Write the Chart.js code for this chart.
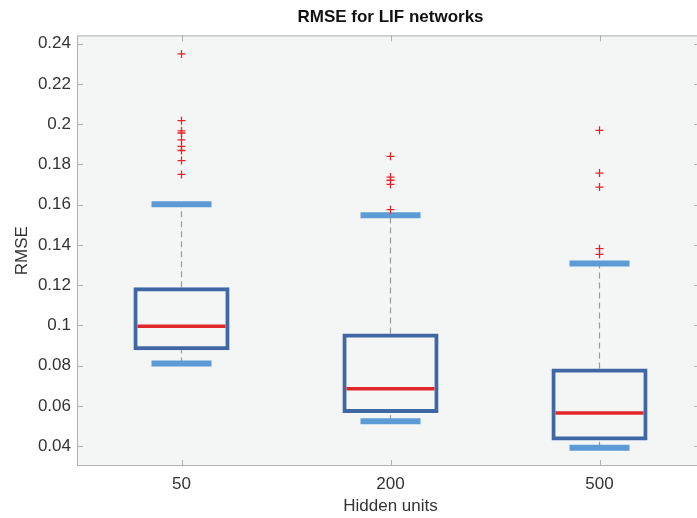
<!DOCTYPE html>
<html>
<head>
<meta charset="utf-8">
<script src="https://cdn.jsdelivr.net/npm/chart.js@4.4.1/dist/chart.umd.min.js"></script>
<style>
  html, body { margin: 0; padding: 0; background: #fff; overflow: hidden; }
  #wrap { width: 697px; height: 518px; overflow: hidden; }
</style>
</head>
<body>
<div id="wrap"><canvas id="c" width="720" height="518"></canvas></div>
<script>
// box plot summary
const categories   = ['50', '200', '500'];
const q1           = [0.0876, 0.0564, 0.0428];
const median       = [0.0995, 0.0685, 0.0564];
const q3           = [0.1189, 0.0959, 0.0785];
const whiskerLow   = [0.0811, 0.0524, 0.0392];
const whiskerHigh  = [0.1602, 0.1547, 0.1308];
const outliers50   = [0.2349, 0.2017, 0.1967, 0.1956, 0.1922, 0.1889, 0.1869, 0.1819, 0.1750];
const outliers200  = [0.1840, 0.1737, 0.1721, 0.1701, 0.1575];
const outliers500  = [0.1969, 0.1757, 0.1687, 0.1381, 0.1353];
const yTicks       = [0.04, 0.06, 0.08, 0.1, 0.12, 0.14, 0.16, 0.18, 0.2, 0.22, 0.24];

const C = {
  box:    '#3f67a3',
  cap:    '#5d9bd6',
  median: '#e3262b',
  whisk:  '#9a9a9a',
  plotBg: '#f4f6f6',
  frame:  '#b0b0b0',
  text:   '#333333',
};
const FONT = "'Liberation Sans', Arial, Helvetica, sans-serif";

const xs = categories.map((_, i) => i + 1);
const outlierPts = [outliers50, outliers200, outliers500]
  .flatMap((arr, i) => arr.map(v => ({ x: i + 1, y: v })));

// dashed whiskers, with null points to break between segments
const whiskerPts = xs.flatMap((x, i) => [
  { x, y: whiskerLow[i] }, { x, y: q1[i] }, { x, y: null },
  { x, y: q3[i] }, { x, y: whiskerHigh[i] }, { x, y: null },
]);

// plot background, frame and inward ticks (MATLAB style)
const frame = {
  id: 'frame',
  beforeDatasetsDraw(chart) {
    const { ctx, chartArea: a } = chart;
    ctx.save();
    ctx.fillStyle = C.plotBg;
    ctx.fillRect(a.left, a.top, a.right - a.left, a.bottom - a.top);
    ctx.strokeStyle = C.frame;
    ctx.lineWidth = 1;
    ctx.strokeRect(a.left + 0.5, a.top + 0.5, a.right - a.left - 1, a.bottom - a.top - 1);
    const sx = chart.scales.x, sy = chart.scales.y;
    ctx.beginPath();
    sx.ticks.forEach(t => {
      const px = Math.round(sx.getPixelForValue(t.value)) + 0.5;
      ctx.moveTo(px, a.bottom); ctx.lineTo(px, a.bottom - 6);
      ctx.moveTo(px, a.top);    ctx.lineTo(px, a.top + 6);
    });
    sy.ticks.forEach(t => {
      const py = Math.round(sy.getPixelForValue(t.value)) + 0.5;
      ctx.moveTo(a.left, py);  ctx.lineTo(a.left + 6, py);
      ctx.moveTo(a.right, py); ctx.lineTo(a.right - 10, py);
    });
    ctx.stroke();
    ctx.restore();
  },
};

new Chart(document.getElementById('c'), {
  data: {
    datasets: [
      {
        type: 'line', label: 'whiskers', data: whiskerPts,
        borderColor: C.whisk, borderWidth: 1.2, borderDash: [6, 4],
        pointRadius: 0, spanGaps: false, order: 5,
      },
      {
        type: 'bar', label: 'box',
        data: xs.map((x, i) => ({ x, y: [q1[i], q3[i]] })),
        backgroundColor: 'rgba(0,0,0,0)', borderColor: C.box, borderWidth: 4,
        borderSkipped: false, barPercentage: 0.46, categoryPercentage: 1, order: 4,
      },
      {
        type: 'scatter', label: 'caps',
        data: xs.flatMap((x, i) => [{ x, y: whiskerLow[i] }, { x, y: whiskerHigh[i] }]),
        pointStyle: 'line', pointRadius: 30, borderColor: C.cap, borderWidth: 6, order: 3,
      },
      {
        type: 'scatter', label: 'median',
        data: xs.map((x, i) => ({ x, y: median[i] })),
        pointStyle: 'line', pointRadius: 44, borderColor: C.median, borderWidth: 3.5, order: 2,
      },
      {
        type: 'scatter', label: 'outliers', data: outlierPts,
        pointStyle: 'cross', pointRadius: 4, borderColor: C.median, borderWidth: 1.3, order: 1,
      },
    ],
  },
  options: {
    responsive: false,
    animation: false,
    events: [],
    layout: { autoPadding: false, padding: { left: 0, right: 16, top: 0, bottom: 0 } },
    plugins: {
      legend: { display: false },
      tooltip: { enabled: false },
      title: {
        display: true, text: 'RMSE for LIF networks', fullSize: false,
        color: '#111', font: { family: FONT, size: 17, weight: 'bold' },
        padding: { top: 7, bottom: 8 },
      },
    },
    scales: {
      x: {
        type: 'linear', min: 0.5, max: 3.5, offset: false,
        grid: { display: false, drawTicks: false }, border: { display: false },
        afterBuildTicks: s => { s.ticks = xs.map(v => ({ value: v })); },
        afterFit: s => { s.height = 52; },
        ticks: {
          color: C.text, padding: 8, maxRotation: 0,
          font: { family: FONT, size: 17 },
          callback: v => categories[v - 1],
        },
        title: {
          display: true, text: 'Hidden units', color: C.text,
          font: { family: FONT, size: 17 }, padding: { top: 0, bottom: 1 },
        },
      },
      y: {
        type: 'linear', min: 0.0301, max: 0.2441,
        grid: { display: false, drawTicks: false }, border: { display: false },
        afterBuildTicks: s => { s.ticks = yTicks.map(v => ({ value: v })); },
        afterFit: s => { s.width = 77; },
        ticks: {
          color: C.text, padding: 6,
          font: { family: FONT, size: 17 },
          callback: v => String(+v.toFixed(2)),
        },
        title: {
          display: true, text: 'RMSE', color: C.text,
          font: { family: FONT, size: 17 }, padding: { top: 12, bottom: 0 },
        },
      },
    },
  },
  plugins: [frame],
});
</script>
</body>
</html>
